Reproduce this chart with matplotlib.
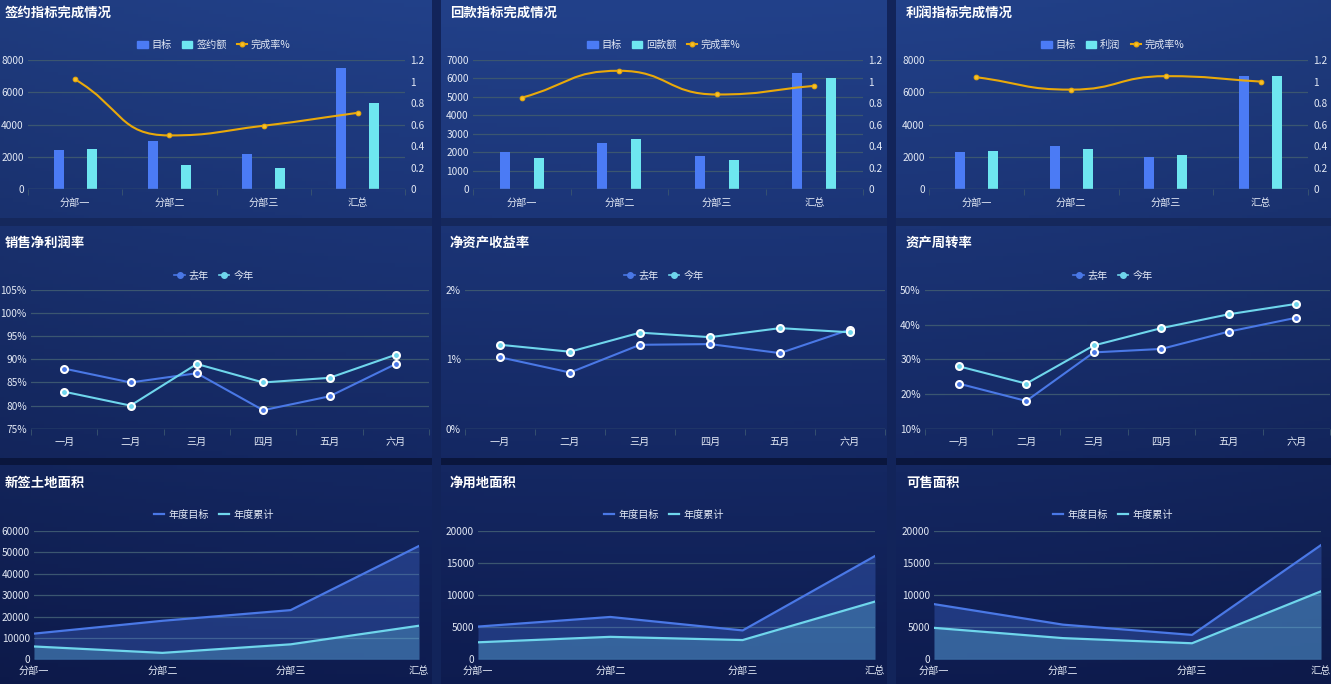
import numpy as np
import matplotlib.pyplot as plt
import matplotlib.colors as mcolors
from matplotlib.patches import Patch, PathPatch, Rectangle
from matplotlib.lines import Line2D
from matplotlib.path import Path
from matplotlib.ticker import FuncFormatter

plt.rcParams['font.family'] = ['Noto Sans CJK SC', 'DejaVu Sans']

W, H = 1331, 684

# ---- data ----
depts = ['分部一', '分部二', '分部三', '汇总']
months = ['一月', '二月', '三月', '四月', '五月', '六月']

sign_target = [2450, 3000, 2200, 7500]
sign_amount = [2500, 1500, 1300, 5350]
sign_rate = [1.02, 0.50, 0.59, 0.71]

pay_target = [2000, 2500, 1800, 6300]
pay_amount = [1700, 2750, 1600, 6050]
pay_rate = [0.85, 1.10, 0.88, 0.96]

profit_target = [2300, 2700, 2000, 7000]
profit_amount = [2400, 2500, 2100, 7000]
profit_rate = [1.04, 0.925, 1.05, 1.0]

margin_last = [88, 85, 87, 79, 82, 89]
margin_this = [83, 80, 89, 85, 86, 91]

roe_last = [1.03, 0.81, 1.21, 1.22, 1.09, 1.43]
roe_this = [1.21, 1.11, 1.385, 1.32, 1.45, 1.39]

turn_last = [23, 18, 32, 33, 38, 42]
turn_this = [28, 23, 34, 39, 43, 46]

land_target = [12000, 18000, 23000, 53000]
land_total = [6000, 3000, 7000, 15700]

net_target = [5100, 6600, 4500, 16100]
net_total = [2650, 3500, 3000, 9000]

sale_target = [8600, 5400, 3800, 17800]
sale_total = [4900, 3300, 2500, 10600]

# ---- style ----
BLUE = '#4b7bf5'
CYAN = '#6ee6f0'
GOLD = '#e9a90a'
LBLUE = '#4a78e6'
LCYAN = '#6fd6ec'
GRID = '#3b5670'
TXT = '#e4eaf6'
FS = 7.3


def px_axes(fig, x0, y0, x1, y1, **kw):
    return fig.add_axes([x0 / W, 1 - y1 / H, (x1 - x0) / W, (y1 - y0) / H], **kw)


def style_axes(ax):
    ax.set_facecolor('none')
    for s in ax.spines.values():
        s.set_visible(False)
    ax.grid(axis='y', color=GRID, lw=0.9)
    ax.set_axisbelow(True)
    ax.tick_params(axis='both', colors=TXT, labelsize=FS, length=0)
    ax.tick_params(axis='y', pad=3)
    ax.tick_params(axis='x', pad=6)


def clamp(p, a, b):
    return np.minimum(np.maximum(p, np.minimum(a, b)), np.maximum(a, b))


def smooth_path(ax, xs, ys, smooth=0.5):
    # bezier through the points, control points kept between neighbours (echarts style)
    pts = ax.transData.transform(np.column_stack([xs, ys]))
    n = len(pts)
    cps = []
    for i in range(n):
        cur = pts[i]
        prev = pts[i - 1] if i > 0 else cur
        nxt = pts[i + 1] if i < n - 1 else cur
        v = nxt - prev
        d0 = np.linalg.norm(cur - prev)
        d1 = np.linalg.norm(nxt - cur)
        r = d1 / (d0 + d1)
        out = clamp(cur + v * smooth * r, cur, nxt)
        inn = cur - v * smooth * (1 - r)
        if d1 > 0:
            inn = cur - (out - cur) * d0 / d1
        inn = clamp(inn, prev, cur)
        if d0 > 0:
            out = cur + (cur - inn) * d1 / d0
        cps.append((inn, out))
    verts = [pts[0]]
    codes = [Path.MOVETO]
    for i in range(1, n):
        verts += [cps[i - 1][1], cps[i][0], pts[i]]
        codes += [Path.CURVE4] * 3
    return Path(ax.transData.inverted().transform(np.array(verts)), codes)


def title(fig, x, y, text):
    fig.text(x / W, 1 - y / H, text, color='white', fontsize=9.6,
             fontweight='bold', va='center', ha='left')


def legend(fig, handles, labels, cx, cy):
    fig.legend(handles, labels, loc='center', bbox_to_anchor=(cx / W, 1 - cy / H),
               ncol=len(labels), frameon=False, fontsize=FS, labelcolor=TXT,
               handlelength=1.0, handleheight=0.8, handletextpad=0.4,
               columnspacing=1.0, borderaxespad=0)


def bar_panel(fig, box, tx, ymax, ystep, target, amount, rate, name, cx):
    ax = px_axes(fig, *box)
    style_axes(ax)
    x = np.arange(len(depts))
    ax.bar(x - 0.175, target, 0.105, color=BLUE, zorder=2)
    ax.bar(x + 0.175, amount, 0.105, color=CYAN, zorder=2)
    ax.set_xlim(-0.5, len(depts) - 0.5)
    ax.set_ylim(0, ymax)
    ax.set_yticks(np.arange(0, ymax + 1, ystep))
    ax.set_xticks(x)
    ax.set_xticklabels(depts)
    ax.set_xticks(np.arange(-0.5, len(depts), 1), minor=True)
    ax.tick_params(axis='x', which='minor', length=4, color=GRID)
    ax.axhline(0, color=GRID, lw=1)

    ax2 = ax.twinx()
    ax2.set_facecolor('none')
    for s in ax2.spines.values():
        s.set_visible(False)
    ax2.set_ylim(0, 1.2)
    ax2.set_yticks(np.arange(0, 1.21, 0.2))
    ax2.yaxis.set_major_formatter(FuncFormatter(lambda v, p: ('%.1f' % v).rstrip('0').rstrip('.')))
    ax2.tick_params(axis='y', colors=TXT, labelsize=FS, length=0, pad=4)
    ax2.add_patch(PathPatch(smooth_path(ax2, x, rate), fill=False, ec=GOLD, lw=1.5, zorder=3))
    ax2.plot(x, rate, 'o', ms=3.3, mfc='#f6c02c', mec=GOLD, mew=0.8, zorder=4)

    title(fig, tx, 13, name[0])
    h = [Patch(color=BLUE), Patch(color=CYAN),
         Line2D([0], [0], color=GOLD, lw=1.5, marker='o', ms=3.3, mfc='#f6c02c', mec=GOLD)]
    legend(fig, h, ['目标', name[1], '完成率%'], cx, 45)


def line_panel(fig, box, tx, last, this, ylim, ystep, name, cx):
    ax = px_axes(fig, *box)
    style_axes(ax)
    x = np.arange(len(months))
    ax.plot(x, last, color=LBLUE, lw=1.5, marker='o', ms=5, mfc=LBLUE, mec='white', mew=1.5, zorder=3)
    ax.plot(x, this, color=LCYAN, lw=1.5, marker='o', ms=5, mfc=LCYAN, mec='white', mew=1.5, zorder=3)
    ax.set_xlim(-0.5, len(months) - 0.5)
    ax.set_ylim(*ylim)
    ax.set_yticks(np.arange(ylim[0], ylim[1] + 0.01, ystep))
    ax.yaxis.set_major_formatter(FuncFormatter(lambda v, p: '%d%%' % round(v)))
    ax.set_xticks(x)
    ax.set_xticklabels(months)
    ax.set_xticks(np.arange(-0.5, len(months), 1), minor=True)
    ax.tick_params(axis='x', which='minor', length=4, color=GRID)
    ax.axhline(ylim[0], color=GRID, lw=1)

    title(fig, tx, 243, name)
    h = [Line2D([0], [0], color=LBLUE, lw=1.2, marker='o', ms=4, mfc=LBLUE, mec=LBLUE),
         Line2D([0], [0], color=LCYAN, lw=1.2, marker='o', ms=4, mfc=LCYAN, mec=LCYAN)]
    legend(fig, h, ['去年', '今年'], cx, 276)


def area_panel(fig, box, tx, target, total, ymax, ystep, name, cx):
    ax = px_axes(fig, *box)
    style_axes(ax)
    x = np.arange(len(depts))
    ax.fill_between(x, 0, target, color=LBLUE, alpha=0.3, lw=0, zorder=2)
    ax.fill_between(x, 0, total, color=LCYAN, alpha=0.27, lw=0, zorder=2)
    ax.plot(x, target, color=LBLUE, lw=1.6, zorder=3)
    ax.plot(x, total, color=LCYAN, lw=1.6, zorder=3)
    ax.set_xlim(0, len(depts) - 1)
    ax.set_ylim(0, ymax)
    ax.set_yticks(np.arange(0, ymax + 1, ystep))
    ax.set_xticks(x)
    ax.set_xticklabels(depts)
    ax.tick_params(axis='x', pad=5)

    title(fig, tx, 483, name)
    h = [Line2D([0], [0], color=LBLUE, lw=1.6), Line2D([0], [0], color=LCYAN, lw=1.6)]
    legend(fig, h, ['年度目标', '年度累计'], cx, 515)


fig = plt.figure(figsize=(W / 100, H / 100), dpi=100, facecolor='#0b173f')

# background gradient and panel gaps
bg = fig.add_axes([0, 0, 1, 1])
bg.set_axis_off()
top = np.array(mcolors.to_rgb('#22418a'))
bot = np.array(mcolors.to_rgb('#0e1c50'))
t = np.linspace(0, 1, 200)[:, None, None]
xx = np.linspace(-1, 1, 300)[None, :, None]
grad = top * (1 - t) + bot * t
grad = grad * (1 - 0.08 * xx ** 2)
bg.imshow(np.clip(grad, 0, 1), aspect='auto', extent=[0, W, H, 0])
bg.set_xlim(0, W)
bg.set_ylim(H, 0)
for rx, ry, rw, rh, c in [(0, 218, W, 8, '#15285c'), (0, 458, W, 7, '#0a163d'),
                          (432, 0, 9, H, '#12245a'), (887, 0, 9, H, '#12245a')]:
    bg.add_patch(Rectangle((rx, ry), rw, rh, color=c, lw=0))

bar_panel(fig, (28, 60, 405, 189.3), 5, 8000, 2000, sign_target, sign_amount, sign_rate,
          ('签约指标完成情况', '签约额'), 214)
bar_panel(fig, (473, 60, 863, 189.3), 450, 7000, 1000, pay_target, pay_amount, pay_rate,
          ('回款指标完成情况', '回款额'), 664)
bar_panel(fig, (929, 60, 1308, 189.3), 906, 8000, 2000, profit_target, profit_amount, profit_rate,
          ('利润指标完成情况', '利润'), 1113)

line_panel(fig, (31, 290, 429, 428.7), 5, margin_last, margin_this, (75, 105), 5, '销售净利润率', 214)
line_panel(fig, (465, 290, 885, 428.7), 450, roe_last, roe_this, (0, 2), 1, '净资产收益率', 664)
line_panel(fig, (925, 290, 1330, 428.7), 906, turn_last, turn_this, (10, 50), 10, '资产周转率', 1113)

area_panel(fig, (34, 531, 419, 659.3), 5, land_target, land_total, 60000, 10000, '新签土地面积', 214)
area_panel(fig, (478, 531, 875, 659.3), 450, net_target, net_total, 20000, 5000, '净用地面积', 664)
area_panel(fig, (934, 531, 1321, 659.3), 906, sale_target, sale_total, 20000, 5000, '可售面积', 1113)

fig.savefig('out.png', dpi=100, facecolor=fig.get_facecolor())
